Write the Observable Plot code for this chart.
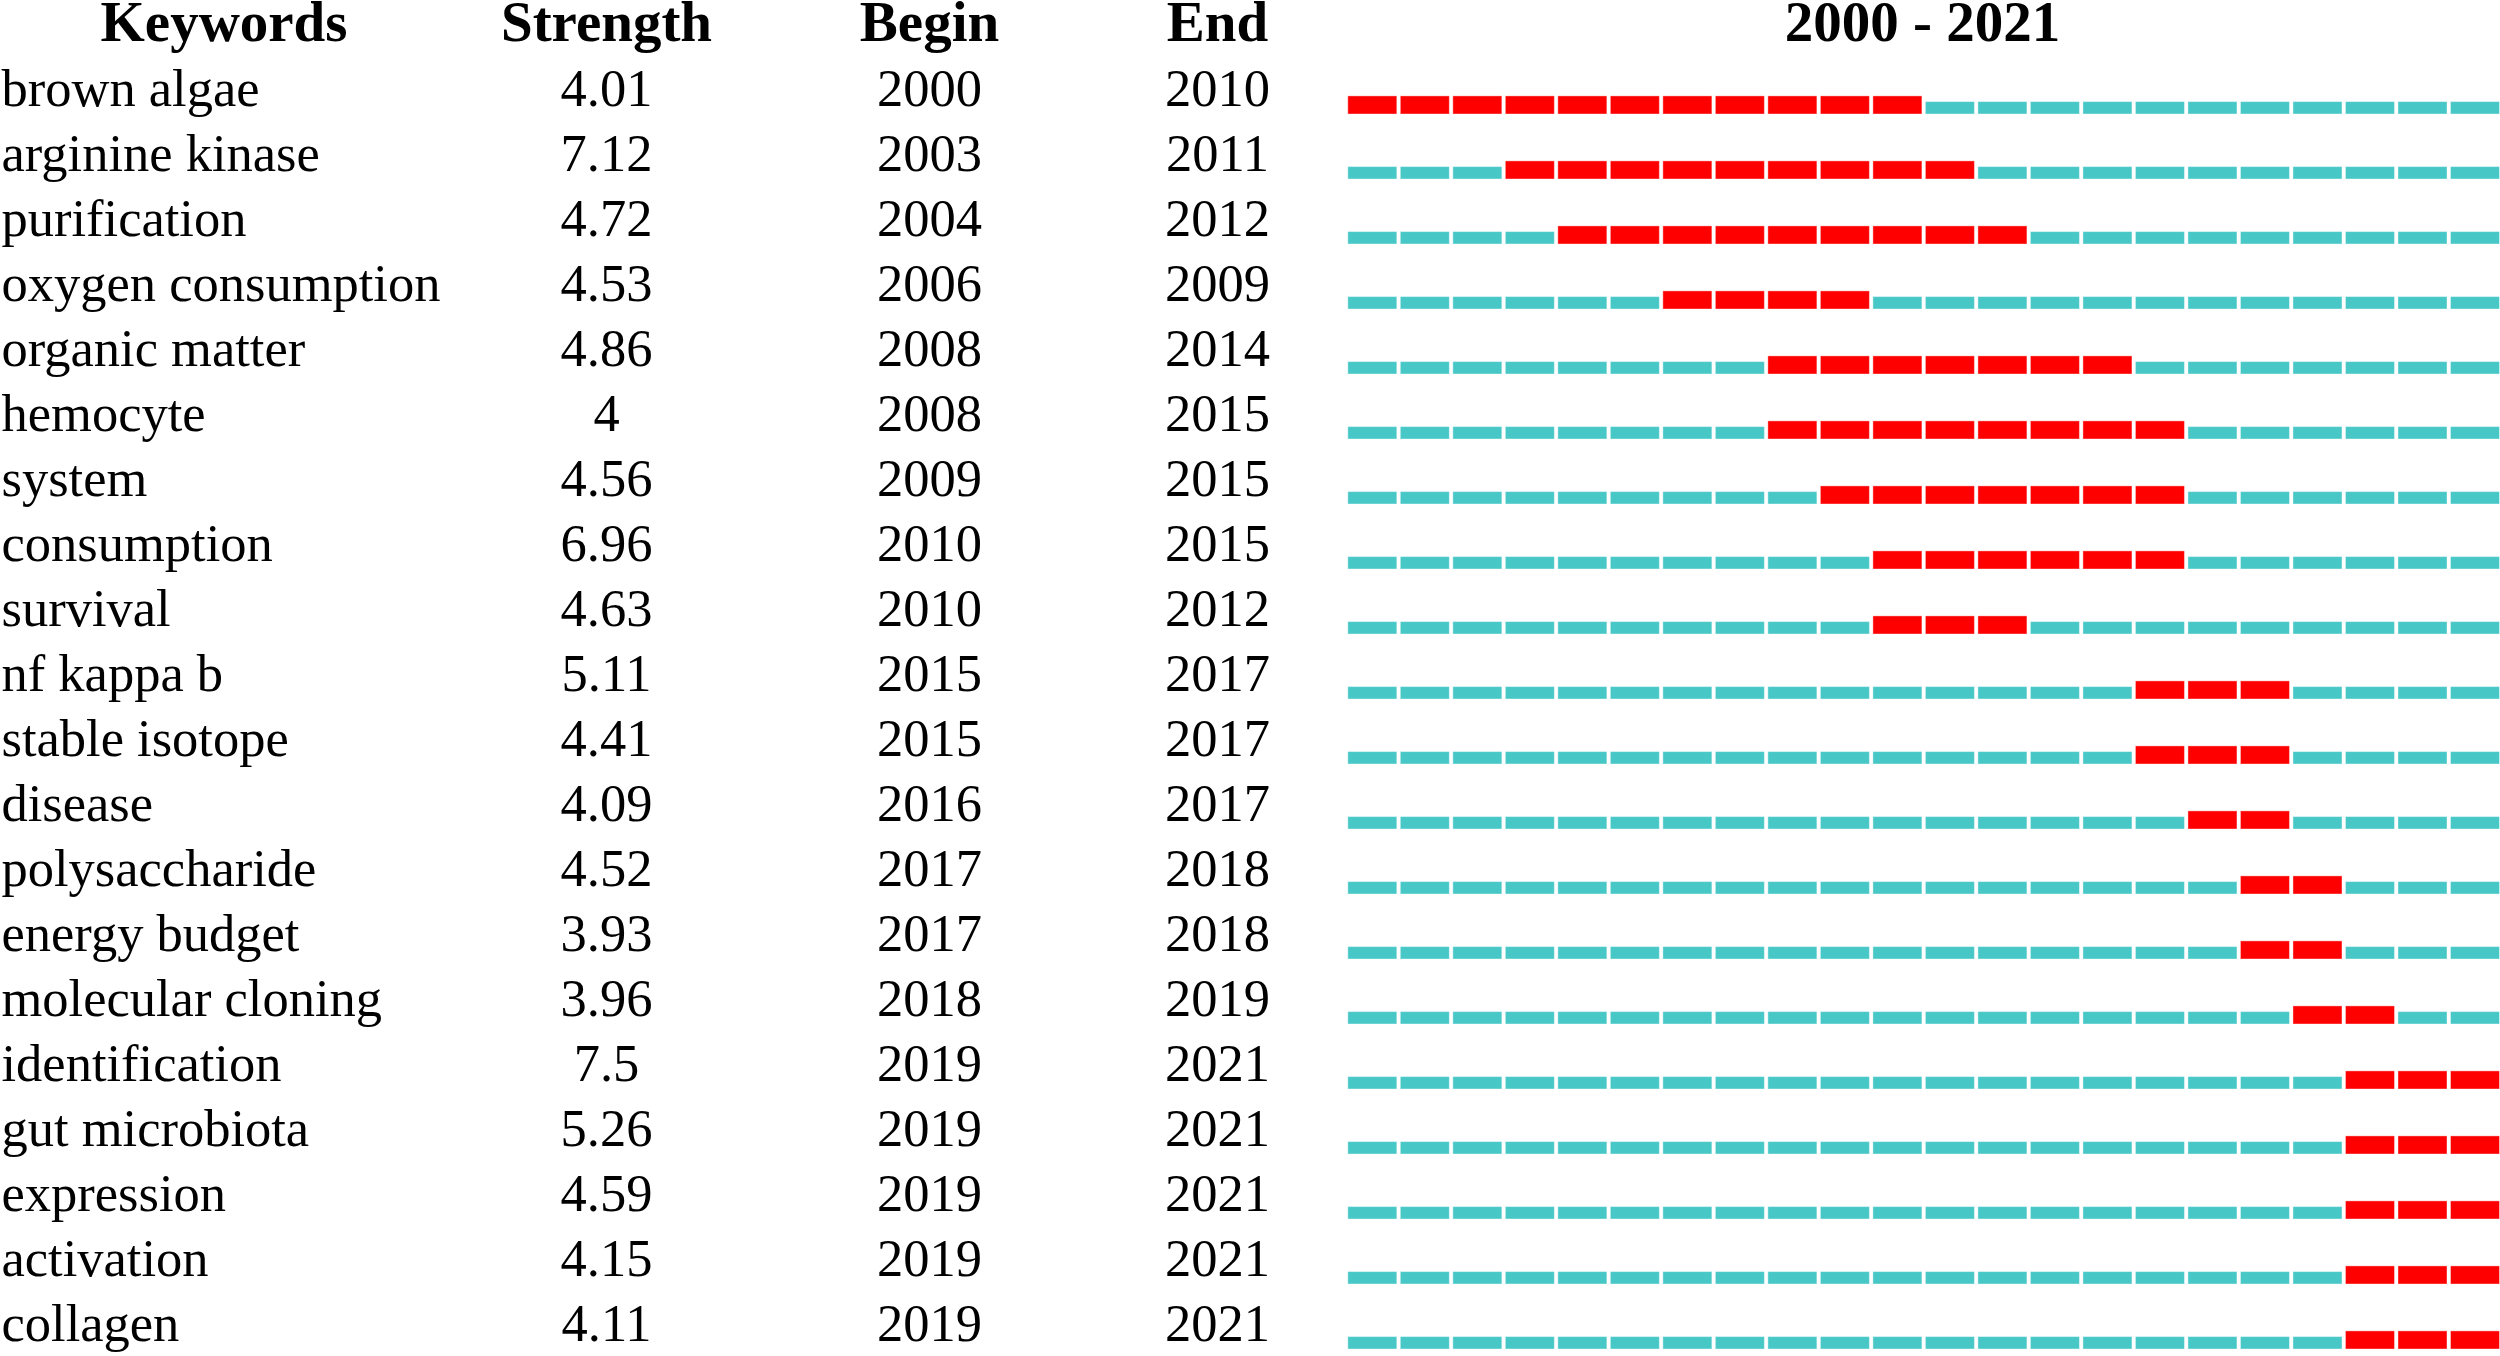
<!DOCTYPE html>
<html>
<head>
<meta charset="utf-8">
<script src="https://cdn.jsdelivr.net/npm/d3@7"></script>
<script src="https://cdn.jsdelivr.net/npm/@observablehq/plot@0.6"></script>
<style>
  html, body { margin: 0; padding: 0; background: #ffffff; }
  #chart svg { display: block; }
</style>
</head>
<body>
<div id="chart"></div>
<script>
// ---- Data ----
const headers = ["Keywords", "Strength", "Begin", "End"];
const keywords = ["brown algae", "arginine kinase", "purification", "oxygen consumption", "organic matter",
  "hemocyte", "system", "consumption", "survival", "nf kappa b", "stable isotope", "disease",
  "polysaccharide", "energy budget", "molecular cloning", "identification", "gut microbiota",
  "expression", "activation", "collagen"];
const strengths = [4.01, 7.12, 4.72, 4.53, 4.86, 4, 4.56, 6.96, 4.63, 5.11, 4.41, 4.09, 4.52, 3.93, 3.96, 7.5, 5.26, 4.59, 4.15, 4.11];
const begins = [2000, 2003, 2004, 2006, 2008, 2008, 2009, 2010, 2010, 2015, 2015, 2016, 2017, 2017, 2018, 2019, 2019, 2019, 2019, 2019];
const ends = [2010, 2011, 2012, 2009, 2014, 2015, 2015, 2015, 2012, 2017, 2017, 2017, 2018, 2018, 2019, 2021, 2021, 2021, 2021, 2021];
const years = d3.range(2000, 2022);

// ---- Layout / style ----
const W = 2500, H = 1356;
const colCenters = { Keywords: 223.5, Strength: 606, Begin: 929, End: 1217 };
const rowTop = 47.1, rowBottom = 1351;
const rowStep = (rowBottom - rowTop) / keywords.length;
const redH = 18.3, tealH = 12.6;
const RED = "#ff0000", TEAL = "#48c7c7";
const FONT = "'Liberation Serif', 'Times New Roman', serif";

const rows = keywords.map((k, i) => ({ keyword: k, strength: strengths[i], begin: begins[i], end: ends[i] }));
const cells = rows.flatMap(r => years.map(y => ({ keyword: r.keyword, year: y, burst: y >= r.begin && y <= r.end })));
const period = `${years[0]} - ${years[years.length - 1]}`;
const midYear = (years[0] + years[years.length - 1] + 1) / 2;

const cellStyle = { insetLeft: 0.5, insetRight: 3, stroke: "white", strokeOpacity: 0.4, strokeWidth: 1 };
const rowText = { y: "keyword", frameAnchor: "left", lineAnchor: "bottom", dy: 24.3, fontSize: 52.5, fill: "black" };
const headText = { frameAnchor: "top-left", dy: 40.5, lineAnchor: "bottom", textAnchor: "middle", fontWeight: "bold", fontSize: 57, fill: "black" };

const chart = Plot.plot({
  width: W,
  height: H,
  margin: 0,
  style: { background: "white", fontFamily: FONT },
  x: { domain: [years[0], years[years.length - 1] + 1], range: [1347.3, 2502.5], axis: null },
  y: { type: "band", domain: keywords, range: [rowTop, rowBottom], padding: 0, axis: null },
  marks: [
    Plot.barX(cells.filter(d => !d.burst), {
      x1: "year", x2: d => d.year + 1, y: "keyword", fill: TEAL,
      insetTop: rowStep - tealH, ...cellStyle
    }),
    Plot.barX(cells.filter(d => d.burst), {
      x1: "year", x2: d => d.year + 1, y: "keyword", fill: RED,
      insetTop: rowStep - redH, ...cellStyle
    }),
    // header
    ...headers.map(h => Plot.text([h], { ...headText, text: d => d, dx: colCenters[h] })),
    Plot.text([period], { ...headText, text: d => d, x: () => midYear, frameAnchor: "top", dx: -3 }),
    // rows
    Plot.text(rows, { ...rowText, text: "keyword", textAnchor: "start", dx: 1 }),
    Plot.text(rows, { ...rowText, text: d => String(d.strength), textAnchor: "middle", dx: colCenters.Strength }),
    Plot.text(rows, { ...rowText, text: d => String(d.begin), textAnchor: "middle", dx: colCenters.Begin }),
    Plot.text(rows, { ...rowText, text: d => String(d.end), textAnchor: "middle", dx: colCenters.End })
  ]
});
document.getElementById("chart").appendChild(chart);
</script>
</body>
</html>
